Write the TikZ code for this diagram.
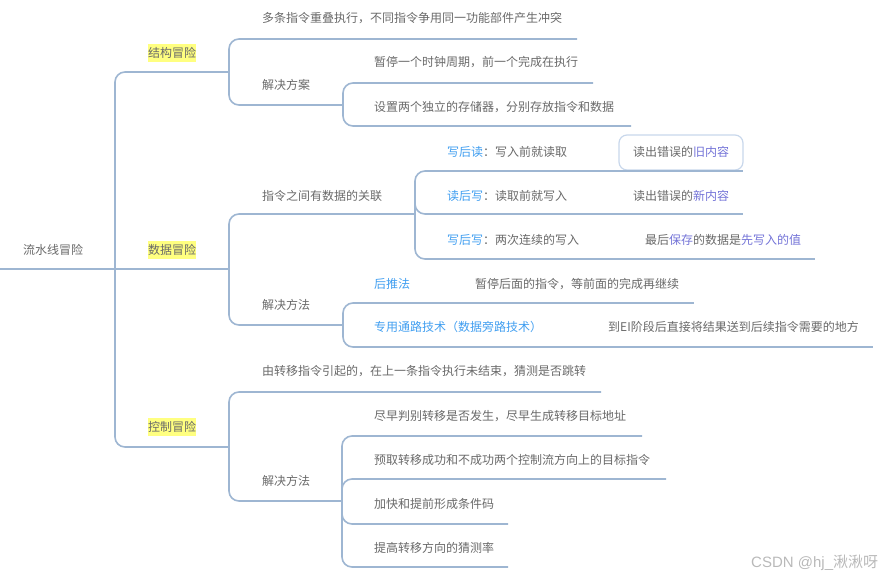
\documentclass[tikz,border=0pt]{standalone}
\usepackage{fontspec}
\setmainfont{Noto Sans CJK SC}
\newfontfamily\wmlatin{Liberation Sans}
\definecolor{ln}{RGB}{158,182,210}
\definecolor{tx}{RGB}{105,105,105}
\definecolor{bl}{RGB}{64,158,240}
\definecolor{pu}{RGB}{115,115,215}
\definecolor{hl}{RGB}{255,255,128}
\definecolor{sel}{RGB}{200,215,235}
\definecolor{wm}{RGB}{185,185,185}
\begin{document}
\begin{tikzpicture}[x=1pt,y=-1pt,
  tt/.style={anchor=west,inner sep=0pt,text=tx,font=\fontsize{12}{14}\selectfont},
  hlt/.style={tt,fill=hl,minimum height=18pt},
  br/.style={draw=ln,line width=1.6pt,rounded corners=10pt},
  selbox/.style={draw=sel,line width=1.2pt,rounded corners=8pt}]
\useasboundingbox (0,0) rectangle (889,579);

% root
\node[tt] (root) at (23,250) {流水线冒险};
\coordinate (rootS) at (0,269);
\coordinate (rootE) at (115,269);
\draw[br] (rootS) -- (rootE);

% level 1
\node[hlt] (s) at (148,53) {结构冒险};
\node[hlt] (d) at (148,250) {数据冒险};
\node[hlt] (c) at (148,427) {控制冒险};
\coordinate (sE) at (229,72);
\coordinate (dE) at (229,269);
\coordinate (cE) at (229,447);
\draw[br] (rootE) |- (sE);
\draw[br] (rootE) -- (dE);
\draw[br] (rootE) |- (cE);

% structure hazard
\node[tt] (s1) at (262,18) {多条指令重叠执行，不同指令争用同一功能部件产生冲突};
\node[tt] (s2) at (262,85) {解决方案};
\coordinate (s1E) at (577,39);
\coordinate (s2E) at (343,105);
\draw[br] (sE) |- (s1E);
\draw[br] (sE) |- (s2E);
\node[tt] (s21) at (374,62) {暂停一个时钟周期，前一个完成在执行};
\node[tt] (s22) at (374,107) {设置两个独立的存储器，分别存放指令和数据};
\coordinate (s21E) at (593,83);
\coordinate (s22E) at (631,126);
\draw[br] (s2E) |- (s21E);
\draw[br] (s2E) |- (s22E);

% data hazard
\node[tt] (d1) at (262,196) {指令之间有数据的关联};
\node[tt] (d2) at (262,305) {解决方法};
\coordinate (d1E) at (415,214);
\coordinate (d2E) at (343,325);
\draw[br] (dE) |- (d1E);
\draw[br] (dE) |- (d2E);

\draw[selbox] (619,135) rectangle (743,170);
\node[tt] (d11) at (447,152) {\textcolor{bl}{写后读}：写入前就读取};
\node[tt] (d12) at (447,196) {\textcolor{bl}{读后写}：读取前就写入};
\node[tt] (d13) at (447,240) {\textcolor{bl}{写后写}：两次连续的写入};
\coordinate (d11E) at (619,171);
\coordinate (d12E) at (619,214);
\coordinate (d13E) at (631,259);
\draw[br] (d1E) |- (d11E);
\draw[br] (d1E) |- (d12E);
\draw[br] (d1E) |- (d13E);
\node[tt] (d11a) at (633,152) {读出错误的\textcolor{pu}{旧内容}};
\node[tt] (d12a) at (633,196) {读出错误的\textcolor{pu}{新内容}};
\node[tt] (d13a) at (645,240) {最后\textcolor{pu}{保存}的数据是\textcolor{pu}{先写入的值}};
\coordinate (d11aE) at (743,171);
\coordinate (d12aE) at (743,214);
\coordinate (d13aE) at (815,259);
\draw[br] (d11E) -- (d11aE);
\draw[br] (d12E) -- (d12aE);
\draw[br] (d13E) -- (d13aE);

\node[tt] (d21) at (374,284) {\textcolor{bl}{后推法}};
\node[tt] (d22) at (374,327) {\textcolor{bl}{专用通路技术（数据旁路技术）}};
\coordinate (d21E) at (460,303);
\coordinate (d22E) at (594,347);
\draw[br] (d2E) |- (d21E);
\draw[br] (d2E) |- (d22E);
\node[tt] (d21a) at (475,284) {暂停后面的指令，等前面的完成再继续};
\node[tt] (d22a) at (608,327) {到EI阶段后直接将结果送到后续指令需要的地方};
\coordinate (d21aE) at (694,303);
\coordinate (d22aE) at (873,347);
\draw[br] (d21E) -- (d21aE);
\draw[br] (d22E) -- (d22aE);

% control hazard
\node[tt] (c1) at (262,371) {由转移指令引起的，在上一条指令执行未结束，猜测是否跳转};
\node[tt] (c2) at (262,481) {解决方法};
\coordinate (c1E) at (601,392);
\coordinate (c2E) at (342,501);
\draw[br] (cE) |- (c1E);
\draw[br] (cE) |- (c2E);
\node[tt] (c21) at (374,416) {尽早判别转移是否发生，尽早生成转移目标地址};
\node[tt] (c22) at (374,460) {预取转移成功和不成功两个控制流方向上的目标指令};
\node[tt] (c23) at (374,504) {加快和提前形成条件码};
\node[tt] (c24) at (374,548) {提高转移方向的猜测率};
\coordinate (c21E) at (642,436);
\coordinate (c22E) at (666,479);
\coordinate (c23E) at (508,524);
\coordinate (c24E) at (508,567);
\draw[br] (c2E) |- (c21E);
\draw[br] (c2E) |- (c22E);
\draw[br] (c2E) |- (c23E);
\draw[br] (c2E) |- (c24E);

% watermark
\node[anchor=west,inner sep=0pt,text=wm,font=\fontsize{15}{17}\selectfont] (wmk) at (751,563) {{\wmlatin CSDN @hj\_}湫湫呀};
\end{tikzpicture}
\end{document}
